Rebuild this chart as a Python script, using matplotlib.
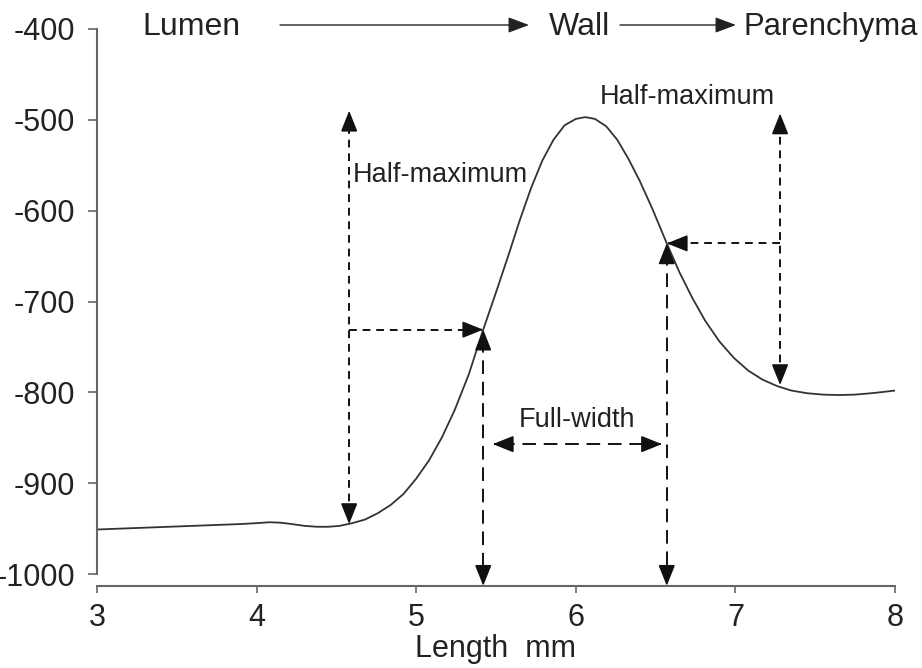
import numpy as np
import matplotlib
matplotlib.use("Agg")
from matplotlib import pyplot as plt
from matplotlib.patches import FancyArrowPatch

plt.rcParams['font.family'] = ['Liberation Sans', 'DejaVu Sans']
plt.rcParams['axes.unicode_minus'] = False

# density profile across the airway wall
length_mm = [3.0, 3.3, 3.6, 3.9, 4.0, 4.08, 4.15, 4.22, 4.3, 4.38, 4.45, 4.52,
             4.6, 4.68, 4.76, 4.84, 4.92, 5.0, 5.08, 5.16, 5.24, 5.33, 5.42,
             5.5, 5.58, 5.65, 5.72, 5.79, 5.86, 5.93, 6.0, 6.06, 6.12, 6.19,
             6.26, 6.33, 6.4, 6.48, 6.57, 6.65, 6.73, 6.81, 6.9, 6.99, 7.08,
             7.17, 7.26, 7.35, 7.45, 7.55, 7.65, 7.75, 7.85, 7.93, 8.0]
density = [-951, -949, -947, -945, -944, -943, -943.5, -945, -947, -948, -948, -947,
           -944, -940, -933, -924, -912, -895, -875, -850, -820, -780, -731,
           -690, -648, -610, -575, -545, -522, -506, -499, -497, -499, -507,
           -522, -543, -567, -598, -636, -668, -696, -721, -744, -762, -776,
           -786, -793, -798, -801, -802.5, -803, -802.5, -801, -799.5, -798]

half_max_left = (5.42, -731)
half_max_right = (6.57, -636)
base_left = (4.58, -945)
top_left = (4.58, -490)
base_right = (7.28, -792)
top_right = (7.28, -493)
full_width_y = -857
axis_foot = -1013

fig = plt.figure(figsize=(9.22, 6.68), dpi=100)
ax = fig.add_axes([0.1052, 0.1407, 0.8655, 0.8159])

ax.plot(length_mm, density, color="#333333", lw=1.3)

ax.set_xlim(3, 8)
ax.set_ylim(-1000, -400)
ax.set_xticks([3, 4, 5, 6, 7, 8])
ax.set_yticks([-400, -500, -600, -700, -800, -900, -1000])
ax.set_yticklabels(["-400", "-500", "-600", "-700", "-800", "-900", "-1000"])

for s in ["top", "right"]:
    ax.spines[s].set_visible(False)
for s in ["left", "bottom"]:
    ax.spines[s].set_color("#666666")
    ax.spines[s].set_linewidth(1.5)
ax.spines["bottom"].set_position(("outward", 8.6))
ax.tick_params(axis="y", length=6.5, width=1.2, color="#666666", pad=9,
               labelsize=22, labelcolor="#222222")
ax.tick_params(axis="x", length=5, width=1.2, color="#666666", pad=7,
               labelsize=22, labelcolor="#222222")
ax.set_xlabel("Length  mm", fontsize=22, color="#222222", labelpad=1)

head = dict(arrowstyle="-|>,head_length=0.8,head_width=0.32", color="#111111",
            lw=1.2, shrinkA=0, shrinkB=0, mutation_scale=16)


def arrow_head(tip, back):
    ax.annotate("", xy=tip, xytext=back, arrowprops=head, annotation_clip=False)


def dashed(xs, ys, dash):
    ax.plot(xs, ys, color="#111111", lw=1.4, ls=(0, dash), clip_on=False,
            dash_capstyle="butt")


short = (4, 3)
long_ = (7, 4)

# left half-maximum marker
dashed([base_left[0], top_left[0]], [base_left[1] + 10, top_left[1] - 10], short)
arrow_head(top_left, (top_left[0], top_left[1] - 5))
arrow_head(base_left, (base_left[0], base_left[1] + 5))
dashed([base_left[0], half_max_left[0] - 0.05], [half_max_left[1]] * 2, short)
arrow_head(half_max_left, (half_max_left[0] - 0.02, half_max_left[1]))

# right half-maximum marker
dashed([base_right[0], top_right[0]], [base_right[1] + 10, top_right[1] - 10], short)
arrow_head(top_right, (top_right[0], top_right[1] - 5))
arrow_head(base_right, (base_right[0], base_right[1] + 5))
dashed([base_right[0], half_max_right[0] + 0.05], [half_max_right[1]] * 2, short)
arrow_head(half_max_right, (half_max_right[0] + 0.02, half_max_right[1]))

# drop lines to the length axis
for x0, y0 in [half_max_left, half_max_right]:
    dashed([x0, x0], [y0 - 10, axis_foot + 10], long_)
    arrow_head((x0, y0), (x0, y0 - 5))
    arrow_head((x0, axis_foot), (x0, axis_foot + 5))

# full-width span
fw_l, fw_r = half_max_left[0] + 0.06, half_max_right[0] - 0.03
dashed([fw_l + 0.05, fw_r - 0.05], [full_width_y] * 2, long_)
arrow_head((fw_l, full_width_y), (fw_l + 0.02, full_width_y))
arrow_head((fw_r, full_width_y), (fw_r - 0.02, full_width_y))

ax.text(4.6, -561, "Half-maximum", fontsize=19.5, color="#222222", va="center")
ax.text(6.7, -475, "Half-maximum", fontsize=19.5, color="#222222",
        va="center", ha="center")
ax.text(6.01, -830, "Full-width", fontsize=19.5, color="#222222",
        va="center", ha="center")

# region labels along the top
fig.text(142 / 922, 1 - 35 / 668, "Lumen", fontsize=23, color="#222222", va="baseline")
fig.text(549 / 922, 1 - 35 / 668, "Wall", fontsize=23, color="#222222", va="baseline")
fig.text(918 / 922, 1 - 35 / 668, "Parenchyma", fontsize=22.3, color="#222222",
         va="baseline", ha="right")
top_head = dict(arrowstyle="-|>,head_length=0.8,head_width=0.3", color="#222222",
                lw=1.0, shrinkA=0, shrinkB=0, mutation_scale=16)
for x0, x1 in [(280, 529), (620, 736)]:
    fig.add_artist(FancyArrowPatch(
        (x0 / 922, 1 - 25 / 668), (x1 / 922, 1 - 25 / 668),
        transform=fig.transFigure, **top_head))

fig.savefig("out.png", dpi=100)
